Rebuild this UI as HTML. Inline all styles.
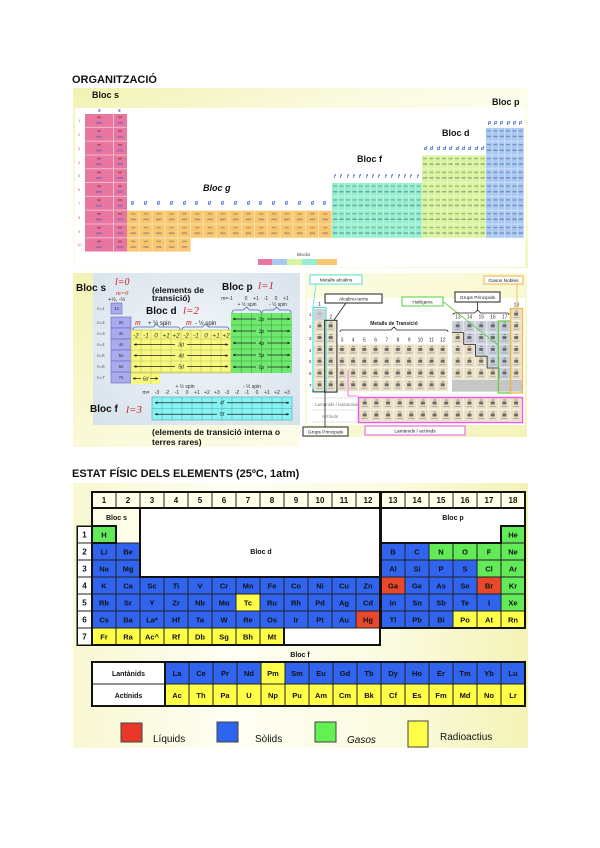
<!DOCTYPE html>
<html><head><meta charset="utf-8"><style>
html,body{margin:0;padding:0;background:#fff;}
svg{display:block}
</style></head><body>
<svg width="600" height="848" viewBox="0 0 600 848" xmlns="http://www.w3.org/2000/svg" font-family="'Liberation Sans', sans-serif">
<defs>
<linearGradient id="gTop" x1="0" y1="0" x2="1" y2="1">
<stop offset="0" stop-color="#f2f2b2"/><stop offset="0.35" stop-color="#fbfbe2"/><stop offset="0.7" stop-color="#fffff6"/><stop offset="1" stop-color="#f5f5c0"/>
</linearGradient>
<linearGradient id="gY2" x1="0" y1="0" x2="1" y2="1">
<stop offset="0" stop-color="#f3f3b6"/><stop offset="0.6" stop-color="#fafadc"/><stop offset="1" stop-color="#fcfcea"/>
</linearGradient>
<radialGradient id="gBlu" cx="0.5" cy="0.45" r="0.75">
<stop offset="0" stop-color="#f2f6f9"/><stop offset="1" stop-color="#d6e1eb"/>
</radialGradient>
<linearGradient id="gY3" x1="0" y1="0" x2="1" y2="1">
<stop offset="0" stop-color="#fbfbe2"/><stop offset="0.5" stop-color="#f9f9d4"/><stop offset="1" stop-color="#f3f3b8"/>
</linearGradient>
<linearGradient id="gBot" x1="0" y1="0" x2="1" y2="0">
<stop offset="0" stop-color="#f8f8d2"/><stop offset="0.35" stop-color="#fefef4"/><stop offset="0.7" stop-color="#fbfbe0"/><stop offset="1" stop-color="#f3f3b6"/>
</linearGradient>
<pattern id="pPink" x="85" y="114" width="42" height="13.8" patternUnits="userSpaceOnUse">
<rect width="42" height="13.8" fill="#e8769f"/>
<rect y="13" width="42" height="0.8" fill="#f6c8d8"/><rect x="28" width="0.8" height="13.8" fill="#f6c8d8"/>
<g opacity="0.6"><rect x="12" y="2.5" width="4" height="1.5" fill="#7a3050"/><rect x="11" y="8" width="6" height="1.7" fill="#6060c0"/>
<rect x="33" y="2.5" width="4" height="1.5" fill="#7a3050"/><rect x="32" y="8" width="6" height="1.7" fill="#6060c0"/></g>
</pattern>
<pattern id="pOr" x="127" y="114" width="12.8" height="13.8" patternUnits="userSpaceOnUse">
<rect width="12.8" height="13.8" fill="#f7c870"/>
<rect x="12" width="0.8" height="13.8" fill="#fbe6b8"/><rect y="13" width="12.8" height="0.8" fill="#fbe6b8"/>
<g opacity="0.55"><rect x="4" y="2.5" width="4.5" height="1.4" fill="#8a6a3a"/><rect x="3.5" y="8" width="5.5" height="1.6" fill="#7a6080"/></g>
</pattern>
<pattern id="pMi" x="332" y="114" width="6.43" height="13.8" patternUnits="userSpaceOnUse">
<rect width="6.43" height="13.8" fill="#96efcf"/>
<rect x="5.9" width="0.5" height="13.8" fill="#d0f8e8"/><rect y="13.1" width="6.43" height="0.7" fill="#d0f8e8"/>
<g opacity="0.55"><rect x="1" y="2.5" width="4" height="1.2" fill="#4d8070"/><rect x="1" y="8" width="4.3" height="1.4" fill="#40607a"/></g>
</pattern>
<pattern id="pYg" x="422" y="114" width="6.4" height="13.8" patternUnits="userSpaceOnUse">
<rect width="6.4" height="13.8" fill="#d8f49e"/>
<rect x="5.9" width="0.5" height="13.8" fill="#effbd6"/><rect y="13.1" width="6.4" height="0.7" fill="#effbd6"/>
<g opacity="0.55"><rect x="1" y="2.5" width="4" height="1.2" fill="#6a7a40"/><rect x="1" y="8" width="4.3" height="1.4" fill="#5a6a60"/></g>
</pattern>
<pattern id="pBl" x="486" y="114" width="6.33" height="13.8" patternUnits="userSpaceOnUse">
<rect width="6.33" height="13.8" fill="#aac9f2"/>
<rect x="5.8" width="0.5" height="13.8" fill="#dce9fa"/><rect y="13.1" width="6.33" height="0.7" fill="#dce9fa"/>
<g opacity="0.55"><rect x="1" y="2.5" width="4" height="1.2" fill="#4a5a90"/><rect x="1" y="8" width="4.3" height="1.4" fill="#4a5a90"/></g>
</pattern>
<pattern id="pcA" x="314" y="309" width="11.2" height="11.8" patternUnits="userSpaceOnUse">
<rect width="11.2" height="11.8" fill="#ebe0c4"/>
<rect x="10.6" width="0.6" height="11.8" fill="#fff"/><rect y="11.2" width="11.2" height="0.6" fill="#fff"/>
<rect x="4.5" y="1.5" width="2.5" height="1" fill="#888"/><rect x="3.5" y="3.5" width="4" height="3" fill="#6a6a6a"/><rect x="2.5" y="8" width="6" height="1" fill="#aaa"/>
</pattern>
<pattern id="pcB" x="452" y="309" width="11.7" height="11.8" patternUnits="userSpaceOnUse">
<rect width="11.7" height="11.8" fill="#ebe0c4"/>
<rect x="11.1" width="0.6" height="11.8" fill="#fff"/><rect y="11.2" width="11.7" height="0.6" fill="#fff"/>
<rect x="4.7" y="1.5" width="2.5" height="1" fill="#888"/><rect x="3.7" y="3.5" width="4" height="3" fill="#6a6a6a"/><rect x="2.7" y="8" width="6" height="1" fill="#aaa"/>
</pattern>
<pattern id="pcN" x="452" y="309" width="11.7" height="11.8" patternUnits="userSpaceOnUse">
<rect width="11.7" height="11.8" fill="#c9cfdc"/>
<rect x="11.1" width="0.6" height="11.8" fill="#fff"/><rect y="11.2" width="11.7" height="0.6" fill="#fff"/>
<rect x="4.7" y="1.5" width="2.5" height="1" fill="#888"/><rect x="3.7" y="3.5" width="4" height="3" fill="#6a6a6a"/><rect x="2.7" y="8" width="6" height="1" fill="#aaa"/>
</pattern>
<pattern id="pcL" x="359" y="398" width="11.64" height="12" patternUnits="userSpaceOnUse">
<rect width="11.64" height="12" fill="#ebe0c4"/>
<rect x="11.04" width="0.6" height="12" fill="#fff"/><rect y="11.4" width="11.64" height="0.6" fill="#fff"/>
<rect x="4.7" y="1.5" width="2.5" height="1" fill="#888"/><rect x="3.7" y="3.5" width="4" height="3" fill="#6a6a6a"/><rect x="2.7" y="8" width="6" height="1" fill="#aaa"/>
</pattern>
<marker id="ah" markerWidth="4" markerHeight="4" refX="3.5" refY="2" orient="auto-start-reverse"><path d="M0,0 L4,2 L0,4 z" fill="#222"/></marker>
</defs>

<!-- ===================== TOP SECTION ===================== -->
<text x="72" y="83" font-size="11" font-weight="bold" fill="#111">ORGANITZACIÓ</text>
<rect x="73" y="88" width="455" height="180" fill="url(#gTop)"/>
<rect x="75" y="108" width="450" height="159" fill="#fff"/>

<rect x="85" y="114" width="42" height="138" fill="url(#pPink)"/>
<rect x="127" y="210.6" width="205" height="27.6" fill="url(#pOr)"/>
<rect x="127" y="238.2" width="64" height="13.8" fill="url(#pOr)"/>
<rect x="332" y="183" width="90" height="55.2" fill="url(#pMi)"/>
<rect x="422" y="155.4" width="64" height="82.8" fill="url(#pYg)"/>
<rect x="486" y="127.8" width="38" height="110.4" fill="url(#pBl)"/>

<g font-size="5" fill="#3355cc" font-style="italic" font-weight="bold">
<text x="98 118" y="112">ss</text>
<text x="131 144 157 170 183 195 208 221 234 247 259 272 285 298 311 323" y="204">gggggggggggggggg</text>
<text x="334 340 347 353 359 366 372 378 385 391 398 404 410 417" y="178">ffffffffffffff</text>
<text x="424 430 437 443 449 456 462 468 475 481" y="150">dddddddddd</text>
<text x="488 494 500 507 513 519" y="124">pppppp</text>
</g>
<g font-size="4" fill="#d06080">
<text x="78" y="122">1</text><text x="78" y="136">2</text><text x="78" y="150">3</text><text x="78" y="164">4</text><text x="78" y="177">5</text><text x="78" y="191">6</text><text x="78" y="205">7</text><text x="78" y="219">8</text><text x="78" y="233">9</text><text x="77" y="246">10</text>
</g>

<g font-size="9" font-weight="bold" fill="#111">
<text x="92" y="98">Bloc s</text>
<text x="492" y="105">Bloc p</text>
<text x="442" y="136">Bloc d</text>
<text x="357" y="162">Bloc f</text>
<text x="203" y="191" font-style="italic">Bloc g</text>
</g>
<text x="297" y="256" font-size="4.5" fill="#444">Blocks</text>
<rect x="258" y="259" width="14" height="6" fill="#e8769f"/>
<rect x="272" y="259" width="15" height="6" fill="#aac9f2"/>
<rect x="287" y="259" width="15" height="6" fill="#d8f49e"/>
<rect x="302" y="259" width="15" height="6" fill="#96efcf"/>
<rect x="317" y="259" width="20" height="6" fill="#f7c870"/>

<!-- ===================== MIDDLE LEFT ===================== -->
<rect x="73" y="273" width="227" height="174" fill="url(#gY2)"/>
<rect x="93" y="273" width="207" height="152" fill="url(#gBlu)"/>

<text x="76" y="291" font-size="10" font-weight="bold" fill="#111">Bloc s</text>
<text x="115" y="285" font-size="10" font-style="italic" fill="#cc2222" font-family="'Liberation Serif', serif">l=0</text>
<text x="116" y="295" font-size="6.5" font-style="italic" fill="#cc2222" font-family="'Liberation Serif', serif">m=0</text>
<text x="108" y="301" font-size="5.5" fill="#222">+½, -½</text>

<g font-size="4.5" fill="#556">
<text x="97" y="310">n=1</text><text x="97" y="324">n=2</text><text x="97" y="335">n=3</text><text x="97" y="346">n=4</text><text x="97" y="357">n=5</text><text x="97" y="368">n=6</text><text x="97" y="379">n=7</text>
</g>
<g fill="#aaaaee" stroke="#6a6ab8" stroke-width="0.6">
<rect x="111" y="303" width="11" height="11"/>
<rect x="111" y="317" width="20" height="11"/><rect x="111" y="328" width="20" height="11"/><rect x="111" y="339" width="20" height="11"/>
<rect x="111" y="350" width="20" height="11"/><rect x="111" y="361" width="20" height="11"/><rect x="111" y="372" width="20" height="11"/>
</g>
<g font-size="4.5" fill="#333" text-anchor="middle">
<text x="116.5" y="310">1s</text><text x="121" y="324">2s</text><text x="121" y="335">3s</text><text x="121" y="346">4s</text><text x="121" y="357">5s</text><text x="121" y="368">6s</text><text x="121" y="379">7s</text>
</g>

<text x="152" y="293" font-size="8.5" font-weight="bold" fill="#111">(elements de</text>
<text x="152" y="301" font-size="8.5" font-weight="bold" fill="#111">transició)</text>
<text x="146" y="314" font-size="10" font-weight="bold" fill="#111">Bloc d</text>
<text x="183" y="314" font-size="11" font-style="italic" fill="#cc2222" font-family="'Liberation Serif', serif">l=2</text>
<text x="135" y="325" font-size="8" font-style="italic" fill="#cc2222" font-family="'Liberation Serif', serif">m</text>
<text x="148" y="325" font-size="6" fill="#222">+ ½ spin</text>
<text x="186" y="325" font-size="8" font-style="italic" fill="#cc2222" font-family="'Liberation Serif', serif">m</text>
<text x="195" y="325" font-size="6" fill="#222">- ½ spin</text>
<g fill="none" stroke="#4466bb" stroke-width="0.8">
<path d="M133,330 q0,-3 3,-3 H153.5 l3,-3 l3,3 H177 q3,0 3,3"/>
<path d="M182,330 q0,-3 3,-3 H202.5 l3,-3 l3,3 H226 q3,0 3,3"/>
<path d="M232,313 q0,-3 3,-3 H243.5 l3,-3 l3,3 H258 q3,0 3,3"/>
<path d="M262,313 q0,-3 3,-3 H273.5 l3,-3 l3,3 H288 q3,0 3,3"/>
</g>

<rect x="131" y="330" width="100" height="43" fill="#f8f87e"/>
<rect x="131" y="373" width="29" height="11" fill="#f8f87e"/>
<g stroke="#b8b860" stroke-width="0.5">
<path d="M141,330V373M151,330V384M161,330V373M171,330V373M181,330V373M191,330V373M201,330V373M211,330V373M221,330V373"/>
<path d="M131,339H231M131,350H231M131,361H231M131,372H231"/>
</g>
<rect x="131" y="330" width="100" height="43" fill="none" stroke="#b8b860" stroke-width="0.6"/>
<g font-size="6.5" font-style="italic" fill="#333" text-anchor="middle">
<text x="136" y="337.5">-2</text><text x="146" y="337.5">-1</text><text x="156" y="337.5">0</text><text x="166" y="337.5">+1</text><text x="176" y="337.5">+2</text>
<text x="186" y="337.5">-2</text><text x="196" y="337.5">-1</text><text x="206" y="337.5">0</text><text x="216" y="337.5">+1</text><text x="226" y="337.5">+2</text>
</g>
<g stroke="#222" stroke-width="0.7" marker-start="url(#ah)">
<line x1="134" y1="344.5" x2="175" y2="344.5"/><line x1="228" y1="344.5" x2="187" y2="344.5"/>
<line x1="134" y1="355.5" x2="175" y2="355.5"/><line x1="228" y1="355.5" x2="187" y2="355.5"/>
<line x1="134" y1="366.5" x2="175" y2="366.5"/><line x1="228" y1="366.5" x2="187" y2="366.5"/>
<line x1="133" y1="378.5" x2="141" y2="378.5"/><line x1="158" y1="378.5" x2="150" y2="378.5"/>
</g>
<g font-size="5" font-style="italic" fill="#222" text-anchor="middle">
<text x="181" y="346.5">3d</text><text x="181" y="357.5">4d</text><text x="181" y="368.5">5d</text><text x="145.5" y="380.5">6d</text>
</g>

<text x="222" y="290" font-size="10" font-weight="bold" fill="#111">Bloc p</text>
<text x="258" y="289" font-size="11" font-style="italic" fill="#cc2222" font-family="'Liberation Serif', serif">l=1</text>
<g font-size="5" fill="#333" text-anchor="middle">
<text x="227" y="300">m=-1</text><text x="246" y="300">0</text><text x="256" y="300">+1</text><text x="266" y="300">-1</text><text x="276" y="300">0</text><text x="286" y="300">+1</text>
<text x="247" y="306">+ ½ spin</text><text x="278" y="306">- ½ spin</text>
</g>
<rect x="231" y="313" width="61" height="60" fill="#6ee86e"/>
<g stroke="#3a9a3a" stroke-width="0.5">
<path d="M241.2,313V373M251.3,313V373M261.5,313V373M271.7,313V373M281.8,313V373"/>
<path d="M231,325H292M231,337H292M231,349H292M231,361H292"/>
</g>
<g stroke="#222" stroke-width="0.7" marker-start="url(#ah)">
<line x1="233" y1="319" x2="256" y2="319"/><line x1="290" y1="319" x2="267" y2="319"/>
<line x1="233" y1="331" x2="256" y2="331"/><line x1="290" y1="331" x2="267" y2="331"/>
<line x1="233" y1="343" x2="256" y2="343"/><line x1="290" y1="343" x2="267" y2="343"/>
<line x1="233" y1="355" x2="256" y2="355"/><line x1="290" y1="355" x2="267" y2="355"/>
<line x1="233" y1="367" x2="256" y2="367"/><line x1="290" y1="367" x2="267" y2="367"/>
</g>
<g font-size="5" font-style="italic" fill="#222" text-anchor="middle">
<text x="261.5" y="321">2p</text><text x="261.5" y="333">3p</text><text x="261.5" y="345">4p</text><text x="261.5" y="357">5p</text><text x="261.5" y="369">6p</text>
</g>

<g font-size="5" fill="#333" text-anchor="middle">
<text x="185" y="388">+ ½ spin</text><text x="252" y="388">- ½ spin</text>
<text x="146" y="394">m=</text>
<text x="157" y="394">-3</text><text x="167" y="394">-2</text><text x="177" y="394">-1</text><text x="187" y="394">0</text><text x="197" y="394">+1</text><text x="207" y="394">+2</text><text x="217" y="394">+3</text>
<text x="227" y="394">-3</text><text x="237" y="394">-2</text><text x="247" y="394">-1</text><text x="257" y="394">0</text><text x="267" y="394">+1</text><text x="277" y="394">+2</text><text x="287" y="394">+3</text>
</g>
<rect x="152" y="397" width="140" height="23" fill="#88f2f2"/>
<g stroke="#40a8b0" stroke-width="0.5">
<path d="M162,397V420M172,397V420M182,397V420M192,397V420M202,397V420M212,397V420M222,397V420M232,397V420M242,397V420M252,397V420M262,397V420M272,397V420M282,397V420"/>
<path d="M152,408.5H292"/>
</g>
<rect x="152" y="397" width="140" height="23" fill="none" stroke="#40a8b0" stroke-width="0.6"/>
<g stroke="#222" stroke-width="0.7" marker-start="url(#ah)">
<line x1="155" y1="402.75" x2="217" y2="402.75"/><line x1="289" y1="402.75" x2="227" y2="402.75"/>
<line x1="155" y1="414.25" x2="217" y2="414.25"/><line x1="289" y1="414.25" x2="227" y2="414.25"/>
</g>
<g font-size="5" font-style="italic" fill="#222" text-anchor="middle">
<text x="222" y="404.5">4f</text><text x="222" y="416">5f</text>
</g>
<text x="90" y="412" font-size="10" font-weight="bold" fill="#111">Bloc f</text>
<text x="126" y="413" font-size="11" font-style="italic" fill="#cc2222" font-family="'Liberation Serif', serif">l=3</text>
<text x="152" y="435" font-size="8.5" font-weight="bold" fill="#111">(elements de transició interna o</text>
<text x="152" y="445" font-size="8.5" font-weight="bold" fill="#111">terres rares)</text>

<!-- ===================== MIDDLE RIGHT ===================== -->
<rect x="305" y="273" width="222" height="164" fill="url(#gY3)"/>
<rect x="307" y="298" width="218" height="127" fill="#fff"/>

<rect x="314" y="309" width="11.2" height="82.6" fill="url(#pcA)"/>
<rect x="314" y="309" width="11.2" height="11.8" fill="#c9cfdc" opacity="0.8"/>
<rect x="325.2" y="320.8" width="11.2" height="70.8" fill="url(#pcA)"/>
<rect x="336.4" y="344.4" width="112" height="47.2" fill="url(#pcA)"/>
<rect x="452" y="320.8" width="58.5" height="70.8" fill="url(#pcB)"/>
<rect x="510.5" y="309" width="11.7" height="82.6" fill="url(#pcB)"/>
<rect x="452" y="320.8" width="58.5" height="11.8" fill="url(#pcN)"/>
<rect x="463.7" y="332.6" width="46.8" height="11.8" fill="url(#pcN)"/>
<rect x="475.4" y="344.4" width="35.1" height="11.8" fill="url(#pcN)"/>
<rect x="487.1" y="356.2" width="23.4" height="11.8" fill="url(#pcN)"/>
<rect x="498.8" y="368" width="11.7" height="11.8" fill="url(#pcN)"/>
<rect x="452" y="379.8" width="70.2" height="11.8" fill="#c6c6c6"/>
<path d="M452,332.6 H463.7 V344.4 H475.4 V356.2 H487.1 V368 H498.8 V379.8" fill="none" stroke="#222" stroke-width="0.8"/>

<g font-size="5" fill="#333" text-anchor="middle">
<text x="319.6" y="306">1</text><text x="330.8" y="318.5">2</text>
<text x="342" y="341.5">3</text><text x="353.2" y="341.5">4</text><text x="364.4" y="341.5">5</text><text x="375.6" y="341.5">6</text><text x="386.8" y="341.5">7</text><text x="398" y="341.5">8</text><text x="409.2" y="341.5">9</text><text x="420.4" y="341.5">10</text><text x="431.6" y="341.5">11</text><text x="442.8" y="341.5">12</text>
<text x="457.85" y="318.5">13</text><text x="469.55" y="318.5">14</text><text x="481.25" y="318.5">15</text><text x="492.95" y="318.5">16</text><text x="504.65" y="318.5">17</text><text x="516.35" y="306.5">18</text>
</g>
<g font-size="4.5" fill="#333">
<text x="309" y="316">1</text><text x="309" y="328">2</text><text x="309" y="340">3</text><text x="309" y="352">4</text><text x="309" y="363">5</text><text x="309" y="375">6</text><text x="309" y="387">7</text>
</g>

<path d="M312,398H522M312,410H522M312,422H522" stroke="#ccc" stroke-width="0.5"/>
<text x="315" y="406" font-size="4.5" fill="#777">Lantànids / lantanoides</text>
<text x="322" y="418" font-size="4.5" fill="#777">Actínids</text>
<rect x="359" y="398" width="163" height="24" fill="url(#pcL)"/>
<rect x="358.5" y="397.5" width="164" height="25" fill="none" stroke="#ee55ee" stroke-width="1.4"/>

<!-- frames -->
<rect x="313" y="307.5" width="13" height="84" fill="none" stroke="#55dddd" stroke-width="1.2"/>
<rect x="324.7" y="320.3" width="12.2" height="71.8" fill="none" stroke="#222" stroke-width="1"/>
<rect x="498.3" y="321" width="12.2" height="72" fill="none" stroke="#66cc44" stroke-width="1.3"/>
<rect x="510.5" y="308.5" width="12" height="84.5" fill="none" stroke="#f0b848" stroke-width="1.3"/>

<g fill="none" stroke-width="0.8">
<path d="M316,284 L313,307" stroke="#55dddd"/>
<path d="M346,303 L334,320" stroke="#222"/>
<path d="M443,301.5 L498,345" stroke="#66cc44"/>
<path d="M477.5,302 V310" stroke="#222"/>
<path d="M453,315 q0,-2 2,-2 H474.5 l3,-3 l3,3 H507 q2,0 2,2" stroke="#222"/>
<path d="M340,332 q0,-2 2,-2 H391 l3,-3 l3,3 H446 q2,0 2,2" stroke="#222"/>
<path d="M517,284 V308" stroke="#f0b848"/>
<path d="M313,389 v3 H337 v-3 M325,392 V427" stroke="#222"/>
<path d="M348,370 V396 H358" stroke="#ee55ee"/>
</g>
<text x="394" y="325" font-size="5" fill="#222" text-anchor="middle" font-weight="bold">Metalls de Transició</text>

<g font-size="4.8" fill="#222" text-anchor="middle">
<rect x="310" y="275" width="52" height="9" fill="#fff" stroke="#55dddd" stroke-width="1"/><text x="336" y="281.5">Metalls alcalins</text>
<rect x="325" y="294" width="57" height="9" fill="#fff" stroke="#222" stroke-width="1"/><text x="353.5" y="300.5">Alcalino-terris</text>
<rect x="402" y="297" width="41" height="9" fill="#fff" stroke="#55cc44" stroke-width="1"/><text x="422.5" y="303.5">Halògens</text>
<rect x="455" y="292" width="45" height="10" fill="#fff" stroke="#222" stroke-width="1"/><text x="477.5" y="299">Grups Principals</text>
<rect x="484" y="276" width="39" height="8" fill="#fff" stroke="#f0b040" stroke-width="1"/><text x="503.5" y="282">Gasos Nobles</text>
<rect x="303" y="427" width="45" height="9" fill="#fff" stroke="#222" stroke-width="1"/><text x="325.5" y="433.5">Grups Principals</text>
<rect x="365" y="426" width="100" height="9" fill="#fff" stroke="#ee55ee" stroke-width="1"/><text x="415" y="432.5">Lantànids / actínids</text>
</g>

<!-- ===================== BOTTOM SECTION ===================== -->
<text x="72" y="477" font-size="11" font-weight="bold" fill="#111">ESTAT FÍSIC DELS ELEMENTS (25ºC, 1atm)</text>
<rect x="73" y="483" width="455" height="265" fill="url(#gBot)"/>

<g shape-rendering="crispEdges">
<g fill="#fffee6" stroke="#222" stroke-width="1">
<rect x="92" y="492" width="24" height="16"/><rect x="116" y="492" width="24" height="16"/><rect x="140" y="492" width="24" height="16"/><rect x="164" y="492" width="24" height="16"/><rect x="188" y="492" width="24" height="16"/><rect x="212" y="492" width="24" height="16"/><rect x="236" y="492" width="24" height="16"/><rect x="260" y="492" width="24" height="16"/><rect x="284" y="492" width="24" height="16"/><rect x="308" y="492" width="24" height="16"/><rect x="332" y="492" width="24" height="16"/><rect x="356" y="492" width="24" height="16"/>
<rect x="381" y="492" width="24" height="16"/><rect x="405" y="492" width="24" height="16"/><rect x="429" y="492" width="24" height="16"/><rect x="453" y="492" width="24" height="16"/><rect x="477" y="492" width="24" height="16"/><rect x="501" y="492" width="24" height="16"/>
</g>
<rect x="92" y="508" width="48" height="35" fill="#fffee6"/>
<rect x="140" y="508" width="240" height="69" fill="#fff"/>
<rect x="381" y="508" width="144" height="35" fill="#fff"/>
<rect x="284" y="628" width="96" height="17" fill="#fff"/>
<g fill="#fff" stroke="#222" stroke-width="1">
<rect x="77" y="526" width="15" height="17"/><rect x="77" y="543" width="15" height="17"/><rect x="77" y="560" width="15" height="17"/><rect x="77" y="577" width="15" height="17"/><rect x="77" y="594" width="15" height="17"/><rect x="77" y="611" width="15" height="17"/><rect x="77" y="628" width="15" height="17"/>
</g>
<g stroke="#222" stroke-width="1">
<rect x="92" y="526" width="24" height="17" fill="#62ea58"/><rect x="501" y="526" width="24" height="17" fill="#62ea58"/>
<rect x="92" y="543" width="24" height="17" fill="#3064ee"/><rect x="116" y="543" width="24" height="17" fill="#3064ee"/>
<rect x="381" y="543" width="24" height="17" fill="#3064ee"/><rect x="405" y="543" width="24" height="17" fill="#3064ee"/><rect x="429" y="543" width="24" height="17" fill="#62ea58"/><rect x="453" y="543" width="24" height="17" fill="#62ea58"/><rect x="477" y="543" width="24" height="17" fill="#62ea58"/><rect x="501" y="543" width="24" height="17" fill="#62ea58"/>
<rect x="92" y="560" width="24" height="17" fill="#3064ee"/><rect x="116" y="560" width="24" height="17" fill="#3064ee"/>
<rect x="381" y="560" width="24" height="17" fill="#3064ee"/><rect x="405" y="560" width="24" height="17" fill="#3064ee"/><rect x="429" y="560" width="24" height="17" fill="#3064ee"/><rect x="453" y="560" width="24" height="17" fill="#3064ee"/><rect x="477" y="560" width="24" height="17" fill="#62ea58"/><rect x="501" y="560" width="24" height="17" fill="#62ea58"/>
<rect x="92" y="577" width="24" height="17" fill="#3064ee"/><rect x="116" y="577" width="24" height="17" fill="#3064ee"/><rect x="140" y="577" width="24" height="17" fill="#3064ee"/><rect x="164" y="577" width="24" height="17" fill="#3064ee"/><rect x="188" y="577" width="24" height="17" fill="#3064ee"/><rect x="212" y="577" width="24" height="17" fill="#3064ee"/><rect x="236" y="577" width="24" height="17" fill="#3064ee"/><rect x="260" y="577" width="24" height="17" fill="#3064ee"/><rect x="284" y="577" width="24" height="17" fill="#3064ee"/><rect x="308" y="577" width="24" height="17" fill="#3064ee"/><rect x="332" y="577" width="24" height="17" fill="#3064ee"/><rect x="356" y="577" width="24" height="17" fill="#3064ee"/>
<rect x="381" y="577" width="24" height="17" fill="#e8482c"/><rect x="405" y="577" width="24" height="17" fill="#3064ee"/><rect x="429" y="577" width="24" height="17" fill="#3064ee"/><rect x="453" y="577" width="24" height="17" fill="#3064ee"/><rect x="477" y="577" width="24" height="17" fill="#e8482c"/><rect x="501" y="577" width="24" height="17" fill="#62ea58"/>
<rect x="92" y="594" width="24" height="17" fill="#3064ee"/><rect x="116" y="594" width="24" height="17" fill="#3064ee"/><rect x="140" y="594" width="24" height="17" fill="#3064ee"/><rect x="164" y="594" width="24" height="17" fill="#3064ee"/><rect x="188" y="594" width="24" height="17" fill="#3064ee"/><rect x="212" y="594" width="24" height="17" fill="#3064ee"/><rect x="236" y="594" width="24" height="17" fill="#ffff48"/><rect x="260" y="594" width="24" height="17" fill="#3064ee"/><rect x="284" y="594" width="24" height="17" fill="#3064ee"/><rect x="308" y="594" width="24" height="17" fill="#3064ee"/><rect x="332" y="594" width="24" height="17" fill="#3064ee"/><rect x="356" y="594" width="24" height="17" fill="#3064ee"/>
<rect x="381" y="594" width="24" height="17" fill="#3064ee"/><rect x="405" y="594" width="24" height="17" fill="#3064ee"/><rect x="429" y="594" width="24" height="17" fill="#3064ee"/><rect x="453" y="594" width="24" height="17" fill="#3064ee"/><rect x="477" y="594" width="24" height="17" fill="#3064ee"/><rect x="501" y="594" width="24" height="17" fill="#62ea58"/>
<rect x="92" y="611" width="24" height="17" fill="#3064ee"/><rect x="116" y="611" width="24" height="17" fill="#3064ee"/><rect x="140" y="611" width="24" height="17" fill="#3064ee"/><rect x="164" y="611" width="24" height="17" fill="#3064ee"/><rect x="188" y="611" width="24" height="17" fill="#3064ee"/><rect x="212" y="611" width="24" height="17" fill="#3064ee"/><rect x="236" y="611" width="24" height="17" fill="#3064ee"/><rect x="260" y="611" width="24" height="17" fill="#3064ee"/><rect x="284" y="611" width="24" height="17" fill="#3064ee"/><rect x="308" y="611" width="24" height="17" fill="#3064ee"/><rect x="332" y="611" width="24" height="17" fill="#3064ee"/><rect x="356" y="611" width="24" height="17" fill="#e8482c"/>
<rect x="381" y="611" width="24" height="17" fill="#3064ee"/><rect x="405" y="611" width="24" height="17" fill="#3064ee"/><rect x="429" y="611" width="24" height="17" fill="#3064ee"/><rect x="453" y="611" width="24" height="17" fill="#ffff48"/><rect x="477" y="611" width="24" height="17" fill="#ffff48"/><rect x="501" y="611" width="24" height="17" fill="#ffff48"/>
<rect x="92" y="628" width="24" height="17" fill="#ffff48"/><rect x="116" y="628" width="24" height="17" fill="#ffff48"/><rect x="140" y="628" width="24" height="17" fill="#ffff48"/><rect x="164" y="628" width="24" height="17" fill="#ffff48"/><rect x="188" y="628" width="24" height="17" fill="#ffff48"/><rect x="212" y="628" width="24" height="17" fill="#ffff48"/><rect x="236" y="628" width="24" height="17" fill="#ffff48"/><rect x="260" y="628" width="24" height="17" fill="#ffff48"/>
</g>
<rect x="92" y="662" width="73" height="22" fill="#fff" stroke="#222"/>
<rect x="92" y="684" width="73" height="22" fill="#fff" stroke="#222"/>
<g stroke="#222" stroke-width="1">
<rect x="165" y="662" width="24" height="22" fill="#3064ee"/><rect x="189" y="662" width="24" height="22" fill="#3064ee"/><rect x="213" y="662" width="24" height="22" fill="#3064ee"/><rect x="237" y="662" width="24" height="22" fill="#3064ee"/><rect x="261" y="662" width="24" height="22" fill="#ffff48"/><rect x="285" y="662" width="24" height="22" fill="#3064ee"/><rect x="309" y="662" width="24" height="22" fill="#3064ee"/><rect x="333" y="662" width="24" height="22" fill="#3064ee"/><rect x="357" y="662" width="24" height="22" fill="#3064ee"/><rect x="381" y="662" width="24" height="22" fill="#3064ee"/><rect x="405" y="662" width="24" height="22" fill="#3064ee"/><rect x="429" y="662" width="24" height="22" fill="#3064ee"/><rect x="453" y="662" width="24" height="22" fill="#3064ee"/><rect x="477" y="662" width="24" height="22" fill="#3064ee"/><rect x="501" y="662" width="24" height="22" fill="#3064ee"/>
<rect x="165" y="684" width="24" height="22" fill="#ffff48"/><rect x="189" y="684" width="24" height="22" fill="#ffff48"/><rect x="213" y="684" width="24" height="22" fill="#ffff48"/><rect x="237" y="684" width="24" height="22" fill="#ffff48"/><rect x="261" y="684" width="24" height="22" fill="#ffff48"/><rect x="285" y="684" width="24" height="22" fill="#ffff48"/><rect x="309" y="684" width="24" height="22" fill="#ffff48"/><rect x="333" y="684" width="24" height="22" fill="#ffff48"/><rect x="357" y="684" width="24" height="22" fill="#ffff48"/><rect x="381" y="684" width="24" height="22" fill="#ffff48"/><rect x="405" y="684" width="24" height="22" fill="#ffff48"/><rect x="429" y="684" width="24" height="22" fill="#ffff48"/><rect x="453" y="684" width="24" height="22" fill="#ffff48"/><rect x="477" y="684" width="24" height="22" fill="#ffff48"/><rect x="501" y="684" width="24" height="22" fill="#ffff48"/>
</g>
<g fill="none" stroke="#111" stroke-width="2">
<rect x="92" y="492" width="288" height="16"/>
<rect x="381" y="492" width="144" height="16"/>
<rect x="92" y="508" width="288" height="137"/>
<rect x="140" y="508" width="240" height="69"/>
<rect x="92" y="526" width="24" height="17"/>
<rect x="381" y="508" width="144" height="120"/>
<path d="M381,543 H501 V526 H525"/>
<rect x="92" y="662" width="433" height="44"/>
<line x1="165" y1="662" x2="165" y2="706"/>
<path d="M284,628 V645"/>
</g>
<rect x="77" y="526" width="15" height="119" fill="none" stroke="#111" stroke-width="1.5"/>
</g>

<g font-size="8" font-weight="bold" fill="#111" text-anchor="middle">
<text x="104" y="503">1</text><text x="128" y="503">2</text><text x="152" y="503">3</text><text x="176" y="503">4</text><text x="200" y="503">5</text><text x="224" y="503">6</text><text x="248" y="503">7</text><text x="272" y="503">8</text><text x="296" y="503">9</text><text x="320" y="503">10</text><text x="344" y="503">11</text><text x="368" y="503">12</text>
<text x="393" y="503">13</text><text x="417" y="503">14</text><text x="441" y="503">15</text><text x="465" y="503">16</text><text x="489" y="503">17</text><text x="513" y="503">18</text>
<text x="84.5" y="537.5">1</text><text x="84.5" y="554.5">2</text><text x="84.5" y="571.5">3</text><text x="84.5" y="588.5">4</text><text x="84.5" y="605.5">5</text><text x="84.5" y="622.5">6</text><text x="84.5" y="639.5">7</text>
</g>
<g font-size="7" font-weight="bold" fill="#111" text-anchor="middle">
<text x="116.5" y="520">Bloc s</text>
<text x="261" y="554">Bloc d</text>
<text x="453" y="520">Bloc p</text>
<text x="300" y="657">Bloc f</text>
<text x="128.5" y="676">Lantànids</text>
<text x="128.5" y="698">Actínids</text>
</g>
<g font-size="7.5" font-weight="bold" fill="#111" text-anchor="middle">
<text x="104" y="537.5">H</text><text x="513" y="537.5">He</text>
<text x="104" y="554.5">Li</text><text x="128" y="554.5">Be</text><text x="393" y="554.5">B</text><text x="417" y="554.5">C</text><text x="441" y="554.5">N</text><text x="465" y="554.5">O</text><text x="489" y="554.5">F</text><text x="513" y="554.5">Ne</text>
<text x="104" y="571.5">Na</text><text x="128" y="571.5">Mg</text><text x="393" y="571.5">Al</text><text x="417" y="571.5">Si</text><text x="441" y="571.5">P</text><text x="465" y="571.5">S</text><text x="489" y="571.5">Cl</text><text x="513" y="571.5">Ar</text>
<text x="104" y="588.5">K</text><text x="128" y="588.5">Ca</text><text x="152" y="588.5">Sc</text><text x="176" y="588.5">Ti</text><text x="200" y="588.5">V</text><text x="224" y="588.5">Cr</text><text x="248" y="588.5">Mn</text><text x="272" y="588.5">Fe</text><text x="296" y="588.5">Co</text><text x="320" y="588.5">Ni</text><text x="344" y="588.5">Cu</text><text x="368" y="588.5">Zn</text>
<text x="393" y="588.5">Ga</text><text x="417" y="588.5">Ge</text><text x="441" y="588.5">As</text><text x="465" y="588.5">Se</text><text x="489" y="588.5">Br</text><text x="513" y="588.5">Kr</text>
<text x="104" y="605.5">Rb</text><text x="128" y="605.5">Sr</text><text x="152" y="605.5">Y</text><text x="176" y="605.5">Zr</text><text x="200" y="605.5">Nb</text><text x="224" y="605.5">Mo</text><text x="248" y="605.5">Tc</text><text x="272" y="605.5">Ru</text><text x="296" y="605.5">Rh</text><text x="320" y="605.5">Pd</text><text x="344" y="605.5">Ag</text><text x="368" y="605.5">Cd</text>
<text x="393" y="605.5">In</text><text x="417" y="605.5">Sn</text><text x="441" y="605.5">Sb</text><text x="465" y="605.5">Te</text><text x="489" y="605.5">I</text><text x="513" y="605.5">Xe</text>
<text x="104" y="622.5">Cs</text><text x="128" y="622.5">Ba</text><text x="152" y="622.5">La*</text><text x="176" y="622.5">Hf</text><text x="200" y="622.5">Ta</text><text x="224" y="622.5">W</text><text x="248" y="622.5">Re</text><text x="272" y="622.5">Os</text><text x="296" y="622.5">Ir</text><text x="320" y="622.5">Pt</text><text x="344" y="622.5">Au</text><text x="368" y="622.5">Hg</text>
<text x="393" y="622.5">Tl</text><text x="417" y="622.5">Pb</text><text x="441" y="622.5">Bi</text><text x="465" y="622.5">Po</text><text x="489" y="622.5">At</text><text x="513" y="622.5">Rn</text>
<text x="104" y="639.5">Fr</text><text x="128" y="639.5">Ra</text><text x="152" y="639.5">Ac^</text><text x="176" y="639.5">Rf</text><text x="200" y="639.5">Db</text><text x="224" y="639.5">Sg</text><text x="248" y="639.5">Bh</text><text x="272" y="639.5">Mt</text>
<text x="177" y="676">La</text><text x="201" y="676">Ce</text><text x="225" y="676">Pr</text><text x="249" y="676">Nd</text><text x="273" y="676">Pm</text><text x="297" y="676">Sm</text><text x="321" y="676">Eu</text><text x="345" y="676">Gd</text><text x="369" y="676">Tb</text><text x="393" y="676">Dy</text><text x="417" y="676">Ho</text><text x="441" y="676">Er</text><text x="465" y="676">Tm</text><text x="489" y="676">Yb</text><text x="513" y="676">Lu</text>
<text x="177" y="698">Ac</text><text x="201" y="698">Th</text><text x="225" y="698">Pa</text><text x="249" y="698">U</text><text x="273" y="698">Np</text><text x="297" y="698">Pu</text><text x="321" y="698">Am</text><text x="345" y="698">Cm</text><text x="369" y="698">Bk</text><text x="393" y="698">Cf</text><text x="417" y="698">Es</text><text x="441" y="698">Fm</text><text x="465" y="698">Md</text><text x="489" y="698">No</text><text x="513" y="698">Lr</text>
</g>

<rect x="121" y="723" width="21" height="19" fill="#e8382a" stroke="#444" stroke-width="1"/>
<rect x="217" y="722" width="21" height="20" fill="#2f62ee" stroke="#444" stroke-width="1"/>
<rect x="315" y="722" width="21" height="20" fill="#62f052" stroke="#444" stroke-width="1"/>
<rect x="408" y="721" width="20" height="26" fill="#ffff48" stroke="#444" stroke-width="1"/>
<g font-size="10" fill="#111">
<text x="153" y="742">Líquids</text>
<text x="255" y="742">Sòlids</text>
<text x="347" y="743" font-style="italic">Gasos</text>
<text x="440" y="740">Radioactius</text>
</g>
</svg>
</body></html>
